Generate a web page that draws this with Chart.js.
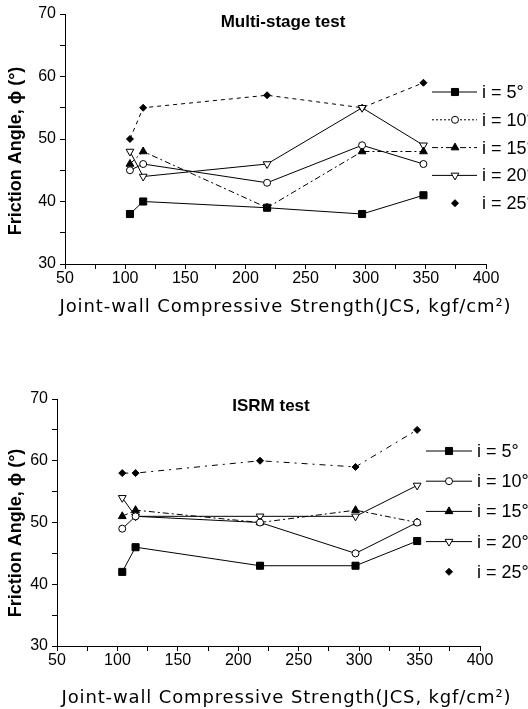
<!DOCTYPE html>
<html>
<head>
<meta charset="utf-8">
<title>Friction angle vs JCS</title>
<script src="https://cdn.jsdelivr.net/npm/chart.js@4.4.1/dist/chart.umd.min.js"></script>
<style>
    body { margin: 0; background: #fff; }
    canvas { display: block; }
</style>
</head>
<body>
<canvas id="multiStageChart" width="528" height="340"></canvas>
<canvas id="isrmChart" width="528" height="369"></canvas>
<script>
// values
const jcsValues = [104, 115, 218, 297, 348];
const seriesLabels = ['i = 5°', 'i = 10°', 'i = 15°', 'i = 20°', 'i = 25°'];

const multiStage5 = [38, 40, 39, 38, 41];
const multiStage10 = [45, 46, 43, 49, 46];
const multiStage15 = [46, 48, 39, 48, 48];
const multiStage20 = [48, 44, 46, 55, 49];
const multiStage25 = [50, 55, 57, 55, 59];

const isrm5 = [42, 46, 43, 43, 47];
const isrm10 = [49, 51, 50, 45, 50];
const isrm15 = [51, 52, 50, 52, 50];
const isrm20 = [54, 51, 51, 51, 56];
const isrm25 = [58, 58, 60, 59, 65];

const xTickLabels = [50, 100, 150, 200, 250, 300, 350, 400];
const yTickLabels = [30, 40, 50, 60, 70];

const xTitle = 'Joint-wall Compressive Strength(JCS, kgf/cm²)';
const yTitle = 'Friction Angle, ϕ (°)';

const sansFont = '"Liberation Sans", Arial, sans-serif';

function toPoints(values) {
    return values.map((v, i) => ({ x: jcsValues[i], y: v }));
}

// marker + line look of each series (per chart)
function makeDatasets(seriesValues, dashes) {
    const markers = [
        { pointStyle: 'rect', pointRadius: 5, pointBackgroundColor: '#000', pointRotation: 0 },
        { pointStyle: 'circle', pointRadius: 3.5, pointBackgroundColor: '#fff', pointRotation: 0 },
        { pointStyle: 'triangle', pointRadius: 4.5, pointBackgroundColor: '#000', pointRotation: 0 },
        { pointStyle: 'triangle', pointRadius: 4.5, pointBackgroundColor: '#fff', pointRotation: 180 },
        { pointStyle: 'rectRot', pointRadius: 3.5, pointBackgroundColor: '#000', pointRotation: 0 }
    ];
    return seriesValues.map((values, i) => Object.assign({
        label: seriesLabels[i],
        data: toPoints(values),
        borderColor: '#000',
        borderWidth: 1,
        borderDash: dashes[i],
        pointBorderColor: '#000',
        pointBorderWidth: 1,
        tension: 0,
        fill: false,
        legendLine: i !== 4
    }, markers[i]));
}

const figureDecor = {
    id: 'figureDecor',
    afterDraw(chart, args, opts) {
        const ctx = chart.ctx;
        ctx.save();
        ctx.fillStyle = '#000';
        ctx.font = 'bold 17px ' + sansFont;
        ctx.textAlign = 'center';
        ctx.textBaseline = 'middle';
        ctx.fillText(opts.title, opts.titleX, opts.titleY);

        // axis titles (the x one is a wide, spaced-out face in the original)
        ctx.save();
        ctx.translate(opts.yTitleX, opts.yTitleY);
        ctx.rotate(-Math.PI / 2);
        ctx.font = 'bold 18px ' + sansFont;
        ctx.fillText(yTitle, 0, 0);
        ctx.restore();

        ctx.font = '18px "DejaVu Sans", sans-serif';
        const plainWidth = ctx.measureText(xTitle).width;
        const spacing = (opts.xTitleWidth - plainWidth) / (xTitle.length - 1);
        ctx.letterSpacing = spacing.toFixed(2) + 'px';
        ctx.fillText(xTitle, opts.xTitleX + spacing / 2, opts.xTitleY);
        ctx.letterSpacing = '0px';

        ctx.font = '18px ' + sansFont;
        ctx.textAlign = 'left';
        chart.data.datasets.forEach((ds, i) => {
            const y = opts.legendTop + i * opts.legendGap;
            ctx.strokeStyle = '#000';
            ctx.lineWidth = 1;
            if (ds.legendLine) {
                ctx.setLineDash(opts.legendDash[i]);
                ctx.beginPath();
                ctx.moveTo(opts.lineStart, y);
                ctx.lineTo(opts.lineEnd, y);
                ctx.stroke();
                ctx.setLineDash([]);
            }
            ctx.fillStyle = ds.pointBackgroundColor;
            Chart.helpers.drawPoint(ctx, {
                pointStyle: ds.pointStyle,
                radius: ds.pointRadius,
                rotation: ds.pointRotation,
                borderWidth: 1
            }, opts.markerX, y);
            ctx.fillStyle = '#000';
            ctx.fillText(ds.label, opts.textX, y + 1);
        });
        ctx.restore();
    }
};

function makeOptions(cfg) {
    return {
        responsive: false,
        animation: false,
        events: [],
        layout: { padding: cfg.padding },
        plugins: {
            legend: { display: false },
            tooltip: { enabled: false },
            figureDecor: cfg.decor
        },
        scales: {
            x: {
                type: 'linear',
                min: 50,
                max: 400,
                ticks: {
                    stepSize: 25,
                    autoSkip: false,
                    maxRotation: 0,
                    padding: 0,
                    color: '#000',
                    font: { family: sansFont, size: 16 },
                    callback: v => xTickLabels.includes(v) ? String(v) : ''
                },
                grid: { drawOnChartArea: false, tickLength: 5, color: '#000' },
                border: { display: true, color: '#000', width: 1 },
                afterFit: s => { s.height = cfg.xAxisHeight; }
            },
            y: {
                type: 'linear',
                min: 30,
                max: 70,
                ticks: {
                    stepSize: 5,
                    autoSkip: false,
                    padding: 4,
                    color: '#000',
                    font: { family: sansFont, size: 16 },
                    callback: v => yTickLabels.includes(v) ? String(v) : ''
                },
                grid: { drawOnChartArea: false, tickLength: 5, color: '#000' },
                border: { display: true, color: '#000', width: 1 },
                afterFit: s => { s.width = cfg.yAxisWidth; }
            }
        }
    };
}

document.addEventListener('DOMContentLoaded', function () {
    const multiStageChart = new Chart(document.getElementById('multiStageChart'), {
        type: 'line',
        data: {
            datasets: makeDatasets(
                [multiStage5, multiStage10, multiStage15, multiStage20, multiStage25],
                [[], [], [6, 3, 2, 3], [], [4, 4]]
            )
        },
        options: makeOptions({
            padding: { left: 0, right: 42, top: 14, bottom: 20 },
            yAxisWidth: 65,
            xAxisHeight: 56,
            decor: {
                title: 'Multi-stage test', titleX: 283, titleY: 22,
                xTitleX: 285, xTitleY: 307, xTitleWidth: 451,
                yTitleX: 16, yTitleY: 151,
                legendTop: 92, legendGap: 27.8,
                lineStart: 432, lineEnd: 477, markerX: 455, textX: 482,
                legendDash: [[], [2, 2], [6, 3, 2, 3], [], []]
            }
        }),
        plugins: [figureDecor]
    });

    const isrmChart = new Chart(document.getElementById('isrmChart'), {
        type: 'line',
        data: {
            datasets: makeDatasets(
                [isrm5, isrm10, isrm15, isrm20, isrm25],
                [[], [], [6, 3, 2, 3], [], [6, 5, 2, 5]]
            )
        },
        options: makeOptions({
            padding: { left: 0, right: 48, top: 59, bottom: 1 },
            yAxisWidth: 57,
            xAxisHeight: 62,
            decor: {
                title: 'ISRM test', titleX: 271, titleY: 66,
                xTitleX: 286, xTitleY: 358, xTitleWidth: 449,
                yTitleX: 16, yTitleY: 193,
                legendTop: 111, legendGap: 30.2,
                lineStart: 426, lineEnd: 472, markerX: 449, textX: 477,
                legendDash: [[], [], [], [], []]
            }
        }),
        plugins: [figureDecor]
    });
});
</script>
</body>
</html>
